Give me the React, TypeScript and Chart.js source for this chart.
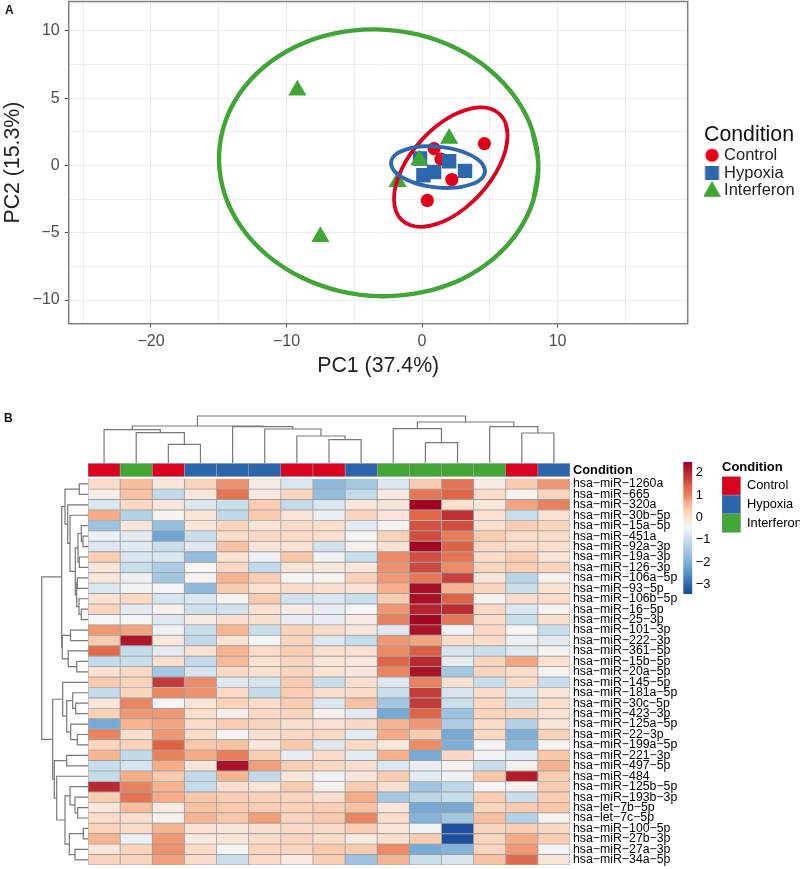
import React, { useEffect, useRef } from "react";
import { Chart, registerables } from "chart.js";

Chart.register(...registerables);

const FONT = "'Liberation Sans', Arial, sans-serif";
const RED = "#e2001a";
const BLUE = "#2d68ae";
const GREEN = "#3fa535";

const conditions = ["Control", "Hypoxia", "Interferon"];
const conditionColors = ["#d9021f", "#2b65ab", "#42a535"];

// ---- Panel A -------------------------------------------------------------
const controlPoints = [[0.89, 1.26], [1.4, 0.47], [4.6, 1.63], [2.2, -1.04], [0.39, -2.6]];
const hypoxiaPoints = [[-0.15, 0.52], [0.89, -0.48], [0.1, -0.72], [2.0, 0.32], [3.17, -0.4]];
const interferonPoints = [[-9.2, 5.6], [-7.5, -5.3], [2.0, 2.0], [-0.2, 0.4], [-1.8, -1.2]];

const greenEllipse = [[8.58, 0.05], [8.13, 2.63], [6.9, 5.03], [4.99, 7.1], [2.52, 8.71], [-0.34, 9.74], [-3.4, 10.12], [-6.44, 9.82], [-9.26, 8.87], [-11.67, 7.32], [-13.5, 5.29], [-14.63, 2.91], [-14.98, 0.35], [-14.53, -2.23], [-13.3, -4.63], [-11.39, -6.7], [-8.92, -8.31], [-6.06, -9.34], [-3.0, -9.72], [0.04, -9.42], [2.88, -8.47], [5.27, -6.92], [7.1, -4.89], [8.23, -2.51], [8.58, 0.05]];
const redEllipse = [[6.31, 2.23], [6.17, 3.13], [5.75, 3.8], [5.08, 4.21], [4.22, 4.32], [3.2, 4.12], [2.12, 3.65], [1.04, 2.91], [0.03, 1.96], [-0.84, 0.88], [-1.51, -0.28], [-1.93, -1.42], [-2.07, -2.47], [-1.93, -3.37], [-1.51, -4.04], [-0.84, -4.44], [0.03, -4.56], [1.04, -4.36], [2.12, -3.89], [3.2, -3.15], [4.22, -2.2], [5.08, -1.12], [5.75, 0.04], [6.17, 1.18], [6.31, 2.23]];
const blueEllipse = [[4.65, -0.42], [4.53, -0.01], [4.19, 0.39], [3.63, 0.75], [2.92, 1.05], [2.08, 1.27], [1.18, 1.4], [0.28, 1.43], [-0.56, 1.35], [-1.27, 1.16], [-1.83, 0.9], [-2.17, 0.56], [-2.29, 0.18], [-2.17, -0.23], [-1.83, -0.63], [-1.27, -0.99], [-0.56, -1.29], [0.28, -1.51], [1.18, -1.64], [2.08, -1.67], [2.92, -1.59], [3.63, -1.4], [4.19, -1.14], [4.53, -0.8], [4.65, -0.42]];

const pcaXLabels = [-20, -10, 0, 10];
const pcaYLabels = [-10, -5, 0, 5, 10];

// ---- Panel B -------------------------------------------------------------
const miRNAs = [
  "hsa−miR−1260a", "hsa−miR−665", "hsa−miR−320a", "hsa−miR−30b−5p", "hsa−miR−15a−5p", "hsa−miR−451a",
  "hsa−miR−92a−3p", "hsa−miR−19a−3p", "hsa−miR−126−3p", "hsa−miR−106a−5p", "hsa−miR−93−5p", "hsa−miR−106b−5p",
  "hsa−miR−16−5p", "hsa−miR−25−3p", "hsa−miR−101−3p", "hsa−miR−222−3p", "hsa−miR−361−5p", "hsa−miR−15b−5p",
  "hsa−miR−20a−5p", "hsa−miR−145−5p", "hsa−miR−181a−5p", "hsa−miR−30c−5p", "hsa−miR−423−3p", "hsa−miR−125a−5p",
  "hsa−miR−22−3p", "hsa−miR−199a−5p", "hsa−miR−221−3p", "hsa−miR−497−5p", "hsa−miR−484", "hsa−miR−125b−5p",
  "hsa−miR−193b−3p", "hsa−let−7b−5p", "hsa−let−7c−5p", "hsa−miR−100−5p", "hsa−miR−27b−3p", "hsa−miR−27a−3p",
  "hsa−miR−34a−5p",
];

// condition index (into `conditions`) of each heat-map column
const columnConditions = [0, 2, 0, 1, 1, 1, 0, 0, 1, 2, 2, 2, 2, 0, 1];

const heatValues = [
  [0.1, 0.5, -0.1, 0.2, 0.9, -0.2, -0.8, -1.8, -1.5, -0.8, 0.35, 1.2, -0.25, 0.35, 0.85],
  [-0.25, 0.45, -1.1, -0.1, 1.2, -0.15, 0.2, -1.7, -1.1, -0.15, 1.15, 1.35, 0.1, -0.35, 0.2],
  [-0.8, 0.15, -0.1, -0.8, -1.0, 0.3, -1.1, -0.8, -0.1, -0.1, 2.45, 0.05, -0.1, 0.75, 1.05],
  [0.7, -1.3, -0.35, -0.05, -1.1, 0.35, -0.05, -0.55, 0.2, -0.05, 1.35, 1.9, 0.0, -1.0, 0.0],
  [-1.6, -0.1, -1.7, -0.1, 0.2, -0.05, 0.1, 0.05, -0.7, -0.35, 1.55, 1.6, 0.05, 0.3, 0.2],
  [-0.55, -0.7, -2.2, -1.0, 0.1, 0.15, 0.1, 0.05, -0.4, 0.25, 1.6, 1.1, 0.3, 0.1, 0.1],
  [-0.75, -0.7, -1.0, -0.75, 0.45, -0.05, 0.0, -0.9, -0.3, 0.0, 2.4, 1.4, 0.15, 0.1, 0.05],
  [0.3, -0.8, -0.8, -1.7, 0.0, -0.5, 0.4, -0.45, -1.0, 0.95, 1.6, 1.2, 0.1, 0.3, -0.05],
  [-0.1, -1.0, -1.4, -0.4, 0.15, -1.1, -0.05, -0.1, -0.1, 0.9, 1.65, 0.95, 0.2, 0.3, 0.2],
  [-0.1, -0.55, -1.5, -0.35, 0.6, 0.3, -0.4, -0.35, 0.25, 0.85, 1.15, 1.7, -0.1, -1.2, -0.3],
  [-0.8, -0.45, -0.4, -1.8, 0.35, 0.0, 0.1, 0.05, 0.0, 0.65, 2.3, 0.6, 0.2, -1.0, 0.0],
  [0.0, 0.15, -0.85, -0.8, -0.35, 0.35, -0.9, -0.8, -1.0, 0.3, 2.3, 1.4, -0.35, 0.1, 0.1],
  [0.2, -0.7, -0.3, -0.95, -0.9, 0.0, -0.2, -0.6, -0.4, 0.85, 2.05, 1.95, 0.15, -0.8, -0.35],
  [-0.4, -0.4, -0.75, -0.2, 0.05, 0.05, -0.65, -0.6, -0.2, 1.05, 2.4, 1.15, 0.1, -1.0, 0.05],
  [0.85, 0.75, -0.5, -1.0, 0.6, -1.0, 0.25, 0.1, -0.1, -0.75, 2.25, -0.45, 0.15, -0.35, -1.0],
  [0.35, 2.2, -0.1, -1.1, 0.0, -0.4, 0.2, -0.75, -1.05, 0.85, 0.75, 0.1, 0.1, -0.55, -0.7],
  [1.3, -1.05, -0.7, 0.0, 0.6, 0.1, 0.3, 0.05, 0.0, 0.95, 1.45, -0.85, -1.0, -0.75, -0.35],
  [-1.05, -1.0, 0.05, -1.1, 0.55, 0.0, 0.2, -0.05, -0.1, 1.35, 2.0, -0.7, 0.2, 0.75, 0.0],
  [0.0, 0.15, -1.5, -0.85, 0.15, 0.0, 0.2, 0.0, -0.1, 1.0, 2.25, -1.5, 0.2, 0.1, -0.35],
  [0.35, 0.2, 1.8, 0.95, -0.75, -0.85, 0.35, -1.0, 0.05, -0.75, 1.05, 0.0, -1.0, 0.1, -1.0],
  [-1.05, 0.2, 1.0, 0.9, 0.15, -1.05, 0.3, 0.05, 0.1, -1.0, 1.75, -0.85, 0.1, -0.8, -0.05],
  [-0.1, 1.0, -0.4, -0.05, 0.25, 0.1, 0.3, -0.8, 0.45, -1.5, 1.8, -1.0, 0.15, -0.9, 0.05],
  [0.25, 0.85, 0.85, 0.05, -0.25, 0.15, 0.2, -0.3, -0.7, -2.1, 1.35, -1.6, 0.2, 0.2, 0.0],
  [-2.1, 0.6, 0.75, 0.1, 0.3, 0.2, 0.05, 0.0, 0.15, 0.6, 0.85, -1.4, 0.1, -1.3, -0.1],
  [1.0, 0.05, 0.85, 0.1, -0.35, 0.05, 0.15, 0.15, -0.7, 0.7, 0.35, -2.1, 0.15, -2.0, 0.25],
  [0.2, 0.25, 1.4, 0.4, 0.45, -0.1, 0.35, -0.75, 0.15, -0.1, 0.95, -2.0, -0.4, -1.8, -0.35],
  [0.6, -1.1, 1.05, 0.7, 1.1, 0.3, -0.6, 0.1, -0.7, 0.65, -2.1, 0.15, -0.45, -0.7, 0.4],
  [-1.0, -0.85, 0.7, -0.05, 2.25, 0.8, 0.3, 0.15, 0.05, -0.8, -0.6, -0.35, -1.0, -0.3, 0.6],
  [-1.05, 0.7, 0.35, -1.1, 0.6, -1.1, -0.1, -0.5, -0.1, 0.3, -0.7, -0.5, 0.4, 2.15, 0.3],
  [2.0, 1.05, 0.6, -1.05, 0.05, -0.05, 0.3, -0.3, 0.3, 0.05, -1.55, -1.15, -0.4, -0.35, 0.3],
  [0.3, 1.2, 0.7, 0.4, 0.3, 0.25, 0.2, 0.05, 0.7, -1.5, -1.2, -1.0, 0.3, -1.0, 0.3],
  [-0.1, 0.5, -0.2, 0.45, 0.35, 0.3, 0.25, 0.3, 0.45, -0.1, -2.1, -2.1, 0.2, 0.35, 0.4],
  [0.1, 0.05, -0.3, 0.6, 0.4, 0.8, 0.2, 0.35, 1.0, 0.1, -1.9, -1.5, 0.5, -1.3, -0.35],
  [0.25, 0.1, 0.6, 0.0, -0.1, 0.05, 0.15, 0.15, 0.3, -0.05, -0.45, -3.3, 0.2, 0.3, 0.15],
  [0.6, -0.55, 0.85, -0.15, -0.05, 0.1, 0.2, 0.1, -0.15, 0.05, 0.3, -3.3, 0.2, 0.7, 0.3],
  [-0.1, 0.2, 0.9, 0.1, -0.4, 0.2, 0.2, 0.35, 0.35, 0.95, -2.1, -1.9, 0.2, 0.85, -0.4],
  [0.25, 0.2, 0.8, 0.1, -1.0, 0.15, -0.15, 0.3, -1.6, 0.6, -1.0, -0.85, 0.45, 1.3, -0.1],
];

// hclust-style merges: [childA, childB, height]; positive = leaf number, negative = earlier merge
const columnTree = [
  [3, 4, 18.7], [2, -1, 30.4], [1, -2, 33.4], [8, 9, 23.4], [7, -4, 27], [6, -5, 34], [5, -6, 36.4],
  [-3, -7, 37], [11, 12, 20.4], [10, -9, 34.4], [14, 15, 30], [13, -11, 36.4], [-10, -12, 41], [-8, -13, 47],
];
const rowTree = [
  [1, 2, 8.7], [6, 7, 5], [5, -2, 6.7], [8, 9, 8.7], [-3, -4, 10], [10, 11, 10.7], [13, 14, 6.7], [12, -7, 9],
  [-6, -8, 11.3], [-5, -9, 12.7], [4, -10, 18], [3, -11, 20.3], [-1, -12, 23], [15, 16, 17.5], [18, 19, 11.2],
  [17, -15, 19.8], [-14, -16, 25.7], [-13, -17, 26.3], [22, 23, 12.3], [21, -19, 15.3], [25, 26, 10.7],
  [24, -21, 17.3], [-20, -22, 21.3], [20, -23, 25.3], [27, 28, 21.3], [32, 33, 10.3], [31, -26, 13],
  [30, -27, 18], [34, 35, 4.7], [36, 37, 13], [-29, -30, 18.7], [-28, -31, 23], [29, -32, 31.3],
  [-25, -33, 33.7], [-24, -34, 35.3], [-18, -35, 46.3],
];

const colorStopValues = [-3.43, -3.3, -2.5, -2.2, -1.8, -1.5, -1.0, -0.7, -0.4, -0.2, 0.1, 0.4, 0.7, 1.0, 1.4, 1.7, 2.1, 2.49];
const colorStops = ["#1c4f9f", "#1d4f9f", "#5293c8", "#6fa5d2", "#8cb9dc", "#a4c7e2", "#c8deeb", "#e3eaf2", "#f4f4f4", "#f8ebe4", "#fbdcc9", "#f9c6a8", "#f5ab86", "#ea8560", "#dd6345", "#c9423e", "#b2202c", "#a00020"];
const colorBarTicks = [2, 1, 0, -1, -2, -3];

function hexRgb(h: string) {
  return [parseInt(h.slice(1, 3), 16), parseInt(h.slice(3, 5), 16), parseInt(h.slice(5, 7), 16)];
}
function heatColor(v: number) {
  const n = colorStopValues.length;
  if (v <= colorStopValues[0]) return colorStops[0];
  if (v >= colorStopValues[n - 1]) return colorStops[n - 1];
  for (let i = 1; i < n; i++) {
    if (v <= colorStopValues[i]) {
      const t = (v - colorStopValues[i - 1]) / (colorStopValues[i] - colorStopValues[i - 1]);
      const a = hexRgb(colorStops[i - 1]);
      const b = hexRgb(colorStops[i]);
      return `rgb(${a.map((c, k) => Math.round(c + (b[k] - c) * t)).join(",")})`;
    }
  }
  return colorStops[n - 1];
}
const minus = (v: number) => String(v).replace("-", "−");

function treeLinks(merges: number[][]) {
  const pos: number[] = [];
  const hgt: number[] = [];
  const get = (c: number) => (c > 0 ? [c - 0.5, 0] : [pos[-c - 1], hgt[-c - 1]]);
  return merges.map(([a, b, h]) => {
    const [pa, ha] = get(a);
    const [pb, hb] = get(b);
    pos.push((pa + pb) / 2);
    hgt.push(h);
    return [[pa, ha], [pa, h], [pb, h], [pb, hb]];
  });
}

function markerIcon(kind: string, color: string, offsetX: number) {
  const c = document.createElement("canvas");
  c.width = 30;
  c.height = 22;
  const g = c.getContext("2d") as CanvasRenderingContext2D;
  const cx = 15 + offsetX;
  const cy = 11;
  g.fillStyle = color;
  g.beginPath();
  if (kind === "circle") g.arc(cx, cy, 6.6, 0, Math.PI * 2);
  if (kind === "rect") g.rect(cx - 7, cy - 7, 14, 14);
  if (kind === "triangle") {
    g.moveTo(cx, cy - 10);
    g.lineTo(cx + 9, cy + 6);
    g.lineTo(cx - 9, cy + 6);
    g.closePath();
  }
  g.fill();
  return c;
}

const toXY = (arr: number[][]) => arr.map(([x, y]) => ({ x, y }));
// a closed ring, overlapping one step at each end so the spline has no corner at its seam
const ring = (arr: number[][]) => toXY([arr[arr.length - 2], ...arr, arr[1]]);

// fixes an axis' thickness and stops it from pushing the plot area inward for its end labels
const fixedAxis = (prop: "width" | "height", size: number) => (s: any) => {
  s[prop] = size;
  s.paddingTop = s.paddingBottom = s.paddingLeft = s.paddingRight = 0;
};

function buildCharts(c: Record<string, HTMLCanvasElement>) {
  const charts: any[] = [];
  const noAxis = { display: false };

  // PCA
  const ellipse = (label: string, pts: number[][], color: string, width: number, order: number) => ({
    label, data: ring(pts), showLine: true, borderColor: color, borderWidth: width, pointRadius: 0,
    tension: 0.35, fill: false, order, borderCapStyle: "round",
  });
  const points = (label: string, pts: number[][], color: string, style: string, r: number, order: number) => ({
    label, data: toXY(pts), backgroundColor: color, borderWidth: 0, pointStyle: style, pointRadius: r, order,
  });
  charts.push(new Chart(c.pca, {
    type: "scatter",
    data: {
      datasets: [
        points("Control", controlPoints, RED, "circle", 6.6, 6),
        points("Hypoxia", hypoxiaPoints, BLUE, "rect", 10.2, 5),
        points("Interferon", interferonPoints, GREEN, "triangle", 10.5, 4),
        ellipse("Interferon ellipse", greenEllipse, GREEN, 4.4, 3),
        ellipse("Control ellipse", redEllipse, "#d9021f", 3.8, 2),
        ellipse("Hypoxia ellipse", blueEllipse, BLUE, 3.8, 1),
      ] as any,
    },
    options: {
      responsive: false, animation: false,
      layout: { autoPadding: false, padding: { top: 1.5, right: 12.3, left: 0, bottom: 0 } },
      scales: {
        x: {
          type: "linear", min: -26.07, max: 19.6,
          afterFit: fixedAxis("height", 61.3),
          ticks: {
            stepSize: 5, includeBounds: false, autoSkip: false, maxRotation: 0, padding: 4,
            color: "#4d4d4d", font: { family: FONT, size: 16 },
            callback: (v: any) => (pcaXLabels.includes(v) ? minus(v) : ""),
          },
          grid: {
            color: "#ededed", lineWidth: 1, tickLength: 4,
            tickColor: (ctx: any) => (pcaXLabels.includes(ctx.tick?.value) ? "#555" : "rgba(0,0,0,0)"),
          },
          border: { display: false },
          title: { display: true, text: "PC1 (37.4%)", color: "#222", font: { family: FONT, size: 21.3 }, padding: { top: 0, bottom: 6 } },
        },
        y: {
          type: "linear", min: -11.76, max: 12.19,
          afterFit: fixedAxis("width", 68.7),
          ticks: {
            stepSize: 2.5, includeBounds: false, autoSkip: false, padding: 5,
            color: "#4d4d4d", font: { family: FONT, size: 16 },
            callback: (v: any) => (pcaYLabels.includes(v) ? minus(v) : ""),
          },
          grid: {
            color: "#ededed", lineWidth: 1, tickLength: 4,
            tickColor: (ctx: any) => (pcaYLabels.includes(ctx.tick?.value) ? "#555" : "rgba(0,0,0,0)"),
          },
          border: { display: false },
          title: { display: true, text: "PC2 (15.3%)", color: "#222", font: { family: FONT, size: 21.3 }, padding: { top: 0, bottom: 0 } },
        },
      },
      plugins: {
        tooltip: { enabled: false },
        legend: {
          position: "right", align: "start", maxWidth: 100,
          title: { display: true, text: "Condition", position: "start", color: "#111", font: { family: FONT, size: 21.3, lineHeight: 1 }, padding: 0 },
          labels: {
            usePointStyle: true, boxWidth: 10.5, padding: 1.3, color: "#222", font: { family: FONT, size: 16.5 },
            generateLabels: () => [
              { text: conditions[0], pointStyle: markerIcon("circle", RED, 1.45), lineWidth: 0, hidden: false, fontColor: "#222" },
              { text: conditions[1], pointStyle: markerIcon("rect", BLUE, 1.45), lineWidth: 0, hidden: false, fontColor: "#222" },
              { text: conditions[2], pointStyle: markerIcon("triangle", GREEN, 1.45), lineWidth: 0, hidden: false, fontColor: "#222" },
            ],
          },
        },
      },
    } as any,
    plugins: [{
      id: "panelFrame",
      afterLayout(chart: any) {
        chart.legend.left = 704;
        chart.legend.right = 800;
        chart.legend.top = 124.35;
      },
      afterDatasetsDraw(chart: any) {
        const { ctx, chartArea: a } = chart;
        ctx.save();
        ctx.strokeStyle = "#7f7f7f";
        ctx.lineWidth = 1.5;
        ctx.strokeRect(a.left, a.top, a.right - a.left, a.bottom - a.top);
        ctx.restore();
      },
    }] as any,
  }));

  // Dendrograms
  const treeLine = (data: any[]) => ({
    data, showLine: true, pointRadius: 0, borderColor: "#777", borderWidth: 1.2, tension: 0, fill: false,
  });
  const quiet = { legend: { display: false }, tooltip: { enabled: false } };
  charts.push(new Chart(c.colTree, {
    type: "scatter",
    data: { datasets: treeLinks(columnTree).map((l) => treeLine(l.map(([p, h]) => ({ x: p, y: h })))) } as any,
    options: {
      responsive: false, animation: false, plugins: quiet,
      layout: { autoPadding: false },
      scales: { x: { type: "linear", min: 0, max: 15, ...noAxis }, y: { type: "linear", min: 0, max: 48, ...noAxis } },
    } as any,
  }));
  charts.push(new Chart(c.rowTree, {
    type: "scatter",
    data: { datasets: treeLinks(rowTree).map((l) => treeLine(l.map(([p, h]) => ({ x: h, y: p })))) } as any,
    options: {
      responsive: false, animation: false, plugins: quiet,
      layout: { autoPadding: false, padding: { top: 0.7, bottom: 1 } },
      scales: {
        x: { type: "linear", min: 0, max: 47, reverse: true, ...noAxis },
        y: { type: "linear", min: 0, max: miRNAs.length, reverse: true, ...noAxis },
      },
    } as any,
  }));

  // Annotation strip
  const sideAxis = (font: any) => ({
    position: "right", stacked: true, offset: true,
    afterFit: fixedAxis("width", 230),
    grid: { display: false, drawTicks: false }, border: { display: false },
    ticks: { autoSkip: false, crossAlign: "near", padding: 3, color: "#000", font },
  });
  charts.push(new Chart(c.annot, {
    type: "bar",
    data: {
      labels: ["Condition"],
      datasets: columnConditions.map((k) => ({
        data: [1], backgroundColor: conditionColors[k], borderColor: "rgba(150,150,150,0.75)", borderWidth: 0.6,
        borderSkipped: false, categoryPercentage: 1, barPercentage: 1,
      })),
    } as any,
    options: {
      indexAxis: "y", responsive: false, animation: false, plugins: quiet,
      layout: { autoPadding: false, padding: { left: 1, top: 1.3, bottom: 1.3 } },
      scales: {
        x: { stacked: true, min: 0, max: columnConditions.length, ...noAxis },
        y: sideAxis({ family: FONT, size: 12.8, weight: "bold" }),
      },
    } as any,
  }));

  // Heat map
  charts.push(new Chart(c.heat, {
    type: "bar",
    data: {
      labels: miRNAs,
      datasets: columnConditions.map((_, col) => ({
        data: miRNAs.map(() => 1),
        backgroundColor: heatValues.map((row) => heatColor(row[col])),
        borderColor: "rgba(150,150,150,0.85)", borderWidth: 0.8, borderSkipped: false,
        categoryPercentage: 1, barPercentage: 1,
      })),
    } as any,
    options: {
      indexAxis: "y", responsive: false, animation: false, plugins: quiet,
      layout: { autoPadding: false, padding: { left: 1, top: 0.7, bottom: 1 } },
      scales: {
        x: { stacked: true, min: 0, max: columnConditions.length, ...noAxis },
        y: sideAxis({ family: FONT, size: 12.3 }),
      },
    } as any,
  }));

  // Colour bar
  charts.push(new Chart(c.bar, {
    type: "bar",
    data: {
      labels: ["scale"],
      datasets: [{
        data: [[colorStopValues[0], colorStopValues[colorStopValues.length - 1]]],
        categoryPercentage: 1, barPercentage: 1, borderWidth: 0,
        backgroundColor: (ctx: any) => {
          const { chart } = ctx;
          const a = chart.chartArea;
          if (!a) return colorStops[0];
          const y = chart.scales.y;
          const g = chart.ctx.createLinearGradient(0, a.top, 0, a.bottom);
          colorStopValues.forEach((v, i) => {
            g.addColorStop(Math.min(1, Math.max(0, (y.getPixelForValue(v) - a.top) / (a.bottom - a.top))), colorStops[i]);
          });
          return g;
        },
      }],
    } as any,
    options: {
      responsive: false, animation: false, plugins: quiet,
      layout: { autoPadding: false, padding: { left: 3.3, top: 7, bottom: 6 } },
      scales: {
        x: noAxis,
        y: {
          position: "right", min: colorStopValues[0], max: colorStopValues[colorStopValues.length - 1],
          afterFit: fixedAxis("width", 27.7),
          grid: { display: false, drawTicks: false }, border: { display: false },
          afterBuildTicks: (s: any) => { s.ticks = colorBarTicks.map((value) => ({ value })); },
          ticks: { crossAlign: "near", padding: 3.5, color: "#000", font: { family: FONT, size: 12.8 }, callback: (v: any) => minus(v) },
        },
      },
    } as any,
  }));

  // Annotation legend
  charts.push(new Chart(c.annotLegend, {
    type: "bar",
    data: {
      labels: [],
      datasets: conditions.map((label, i) => ({ label, data: [], backgroundColor: conditionColors[i], borderColor: "rgba(150,150,150,0.7)", borderWidth: 0.6 })),
    } as any,
    options: {
      responsive: false, animation: false,
      layout: { autoPadding: false },
      scales: { x: noAxis, y: noAxis },
      plugins: {
        tooltip: { enabled: false },
        legend: {
          position: "left", align: "start",
          title: { display: true, text: "Condition", position: "start", color: "#000", font: { family: FONT, size: 13, weight: "bold" }, padding: 0 },
          labels: { boxWidth: 18.6, boxHeight: 18.6, padding: 0, color: "#000", font: { family: FONT, size: 12.8 } },
        },
      },
    } as any,
  }));
  return charts;
}

const canvases: [string, number, number, number, number][] = [
  ["pca", 0, 0, 800, 385],
  ["colTree", 88, 415, 482, 48],
  ["rowTree", 41, 478, 47, 388],
  ["annot", 87, 462, 713, 16],
  ["heat", 87, 478, 713, 388],
  ["bar", 680, 455, 40, 145],
  ["annotLegend", 721.7, 460.8, 160, 80],
];

const panelLabel = (left: number, top: number): React.CSSProperties => ({
  position: "absolute", left, top, font: `bold 12px ${FONT}`, color: "#111", lineHeight: "14px",
});

export default function App() {
  const refs = useRef<Record<string, HTMLCanvasElement>>({});
  useEffect(() => {
    const charts = buildCharts(refs.current);
    return () => charts.forEach((ch) => ch.destroy());
  }, []);
  return (
    <div style={{ position: "absolute", left: 0, top: 0, width: 800, height: 869, overflow: "hidden", background: "#fff" }}>
      {canvases.map(([id, left, top, width, height]) => (
        <canvas
          key={id}
          ref={(el) => { if (el) refs.current[id] = el; }}
          width={width}
          height={height}
          style={{ position: "absolute", left, top, width, height, display: "block" }}
        />
      ))}
      <div style={panelLabel(5, 3)}>A</div>
      <div style={panelLabel(4, 411)}>B</div>
    </div>
  );
}
